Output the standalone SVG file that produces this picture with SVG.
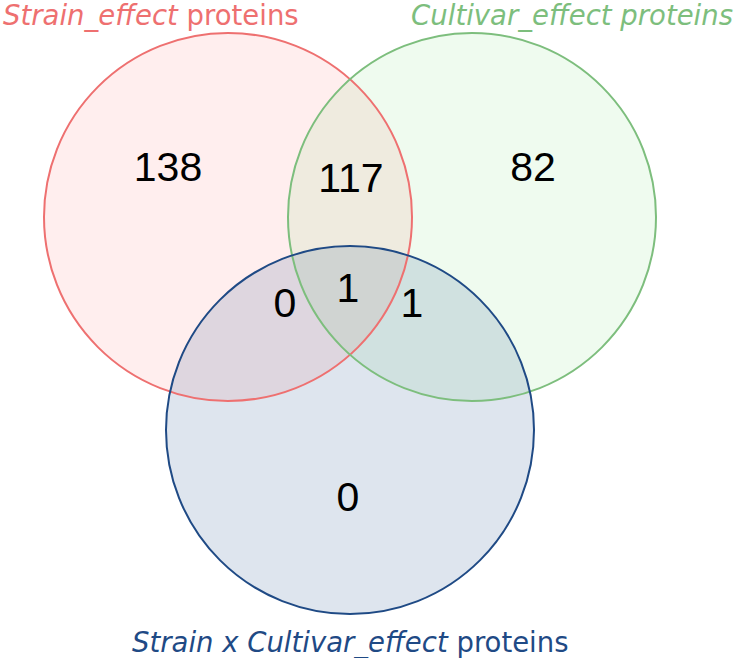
<svg xmlns="http://www.w3.org/2000/svg" width="739" height="658" viewBox="0 0 739 658">
<style>
.num{font-family:"Liberation Sans",Arial,sans-serif;font-size:41px;fill:#000;text-anchor:middle}
.lbl{font-family:"DejaVu Sans",Verdana,sans-serif;font-size:27.5px}
.c{stroke-width:2}
</style>
<rect width="739" height="658" fill="#fff"/>
<g id="set-strain">
<circle class="c" cx="228" cy="217" r="184" fill="#FF0000" fill-opacity="0.065" stroke="none"/>
</g>
<g id="set-cultivar">
<circle class="c" cx="472" cy="217" r="184" fill="#22CC22" fill-opacity="0.075" stroke="none"/>
</g>
<g id="set-interaction">
<circle class="c" cx="350" cy="430" r="184" fill="#1F4E8C" fill-opacity="0.15" stroke="none"/>
</g>
<g id="outlines" fill="none">
<circle class="c" cx="228" cy="217" r="184" stroke="#EE7070"/>
<circle class="c" cx="472" cy="217" r="184" stroke="#7DBE7D"/>
<circle class="c" cx="350" cy="430" r="184" stroke="#1F4A85"/>
</g>
<g id="counts">
<text class="num" x="168" y="181">138</text>
<text class="num" x="351" y="192">117</text>
<text class="num" x="533" y="181">82</text>
<text class="num" x="285" y="317">0</text>
<text class="num" x="348" y="302">1</text>
<text class="num" x="412" y="317">1</text>
<text class="num" x="348" y="511">0</text>
</g>
<g id="labels" class="lbl">
<text x="3" y="25" fill="#EE7070"><tspan font-style="italic">Strain_effect</tspan> proteins</text>
<text x="733" y="25" fill="#7DBE7D" text-anchor="end" font-style="italic">Cultivar_effect proteins</text>
<text x="132" y="652" fill="#1F4A85"><tspan font-style="italic">Strain x Cultivar_effect</tspan> proteins</text>
</g>
</svg>
